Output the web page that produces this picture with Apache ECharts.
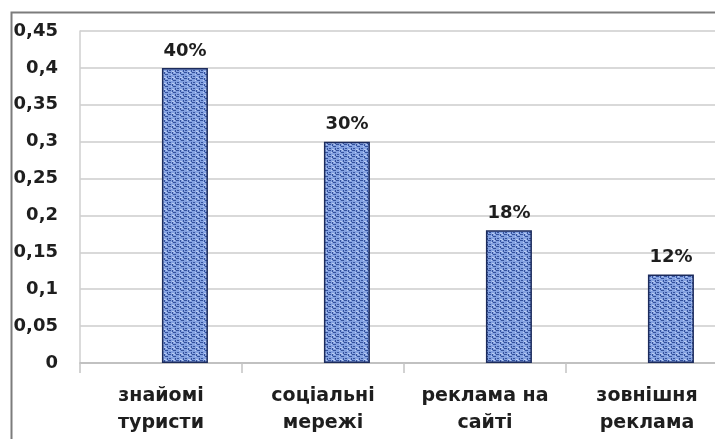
<!DOCTYPE html>
<html>
<head>
<meta charset="utf-8">
<script src="https://cdn.jsdelivr.net/npm/echarts@6/dist/echarts.min.js"></script>
<style>
  html, body { margin: 0; padding: 0; background: #fff; }
  #chart { width: 715px; height: 439px; }
</style>
</head>
<body>
<div id="chart"></div>
<script>
// Sources of tourist awareness (shares)
const categories = ['знайомі\nтуристи', 'соціальні\nмережі', 'реклама на\nсайті', 'зовнішня\nреклама'];
const shares = [0.40, 0.30, 0.18, 0.12];
// empty first series of the cluster (keeps bars right of the category centre)
const emptySeries = [null, null, null, null];
const yTicks = { min: 0, max: 0.45, interval: 0.05 };

// small repeating texture for the bar fill
function makeTexture() {
  const c = document.createElement('canvas');
  c.width = 8; c.height = 6;
  const g = c.getContext('2d');
  g.fillStyle = '#84a2e2';
  g.fillRect(0, 0, 8, 6);
  g.fillStyle = '#34519c';
  g.fillRect(0, 0, 3, 1);
  g.fillRect(5, 2, 3, 1);
  g.fillRect(1, 4, 2, 1);
  g.fillRect(4, 0, 1, 2);
  g.fillRect(7, 4, 1, 2);
  g.fillStyle = '#b8caf0';
  g.fillRect(3, 2, 1, 1);
  g.fillRect(6, 0, 1, 1);
  g.fillRect(4, 5, 2, 1);
  return c;
}

const chart = echarts.init(document.getElementById('chart'), null, { renderer: 'canvas' });
const font = 'DejaVu Sans';

chart.setOption({
  animation: false,
  backgroundColor: '#fff',
  graphic: [{
    type: 'rect',
    left: 9, top: 10,
    shape: { width: 730, height: 450 },
    style: { fill: 'none', stroke: '#7c7c7c', lineWidth: 2 },
    z: 100
  }],
  grid: {
    left: 80, top: 31, width: 648, height: 332,
    containLabel: false, outerBoundsMode: 'none'
  },
  xAxis: {
    type: 'category',
    data: categories,
    axisLine: { show: true, lineStyle: { color: '#b9b9b9', width: 1.5 } },
    axisTick: { show: true, length: 10, lineStyle: { color: '#c4c4c4', width: 1.5 } },
    axisLabel: {
      interval: 0, margin: 20, color: '#1e1e1e',
      fontFamily: font, fontWeight: 'bold', fontSize: 19, lineHeight: 27
    }
  },
  yAxis: {
    type: 'value',
    min: yTicks.min, max: yTicks.max, interval: yTicks.interval,
    axisLine: { show: true, lineStyle: { color: '#cfcfcf', width: 1.5 } },
    axisTick: { show: false },
    splitLine: { show: true, lineStyle: { color: '#cdcdcd', width: 1.5 } },
    axisLabel: {
      margin: 22, color: '#1e1e1e',
      fontFamily: font, fontWeight: 'bold', fontSize: 18,
      formatter: v => String(+v.toFixed(2)).replace('.', ',')
    }
  },
  series: [
    { type: 'bar', data: emptySeries, barWidth: 46, barGap: '4%', silent: true },
    {
      type: 'bar', data: shares, barWidth: 46, barGap: '4%',
      itemStyle: {
        color: { image: makeTexture(), repeat: 'repeat' },
        borderColor: '#1c2b5c', borderWidth: 1.5
      },
      label: {
        show: true, position: 'top', distance: 8, color: '#1e1e1e',
        fontFamily: font, fontWeight: 'bold', fontSize: 18,
        formatter: p => Math.round(p.value * 100) + '%'
      }
    }
  ]
});
</script>
</body>
</html>
